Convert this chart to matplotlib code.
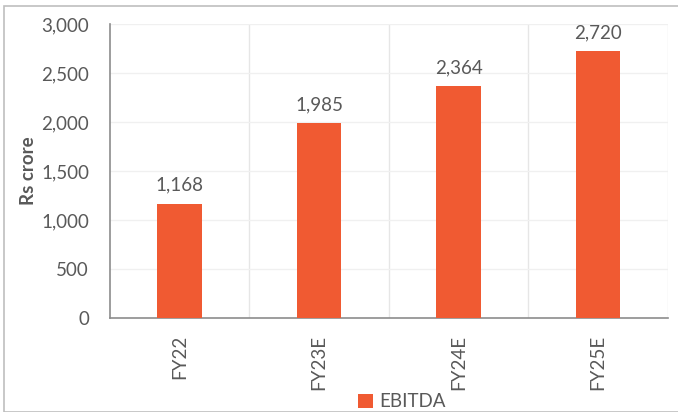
import matplotlib.pyplot as plt
from matplotlib.patches import Rectangle

categories = ['FY22', 'FY23E', 'FY24E', 'FY25E']
ebitda = [1168, 1985, 2364, 2720]

bar_color = '#F05A32'
text_color = '#595959'

plt.rcParams['font.family'] = ['Lato', 'DejaVu Sans']

fig = plt.figure(figsize=(6.78, 4.12), dpi=100)
ax = fig.add_axes([0.162, 0.228, 0.823, 0.714])

x = range(len(categories))
bars = ax.bar(x, ebitda, width=0.32, color=bar_color, label='EBITDA', zorder=3)
for xi, v in zip(x, ebitda):
    ax.text(xi, v + 100, '{:,}'.format(v), ha='center', va='bottom',
            fontsize=13.5, color=text_color)

ax.set_xlim(-0.5, 3.5)
ax.set_ylim(0, 3000)
ax.set_yticks(range(0, 3001, 500))
ax.set_yticklabels(['{:,}'.format(t) for t in range(0, 3001, 500)])
ax.set_xticks(list(x))
ax.set_xticklabels(categories, rotation=90)
ax.tick_params(axis='both', length=0, labelsize=13.5, labelcolor=text_color)
ax.tick_params(axis='y', pad=15)
ax.tick_params(axis='x', pad=12)

# gridlines
for b in [0.5, 1.5, 2.5, 3.5]:
    ax.axvline(b, color='#E6E6E6', lw=1, zorder=1)
for t in range(500, 3001, 500):
    ax.axhline(t, color='#F0F0F0', lw=1, zorder=1)

for s in ['top', 'right']:
    ax.spines[s].set_visible(False)
ax.spines['left'].set_color('#8C8C8C')
ax.spines['bottom'].set_color('#8C8C8C')
ax.spines['left'].set_linewidth(1.2)
ax.spines['bottom'].set_linewidth(1.2)

ax.set_ylabel('Rs crore', fontsize=13.5, fontweight='bold', color=text_color)
ax.yaxis.set_label_coords(-0.13, 0.5)

fig.legend(handles=[bars], labels=['EBITDA'], loc='center', bbox_to_anchor=(0.593, 0.025),
           frameon=False, fontsize=13.5, handlelength=0.8, handleheight=0.8,
           handletextpad=0.3, labelcolor=text_color)

fig.patches.append(Rectangle((4 / 678, 0), 1, 1 - 6 / 412, transform=fig.transFigure,
                             fill=False, edgecolor='#BFBFBF', lw=1.2))

fig.savefig('out.png', dpi=100)
